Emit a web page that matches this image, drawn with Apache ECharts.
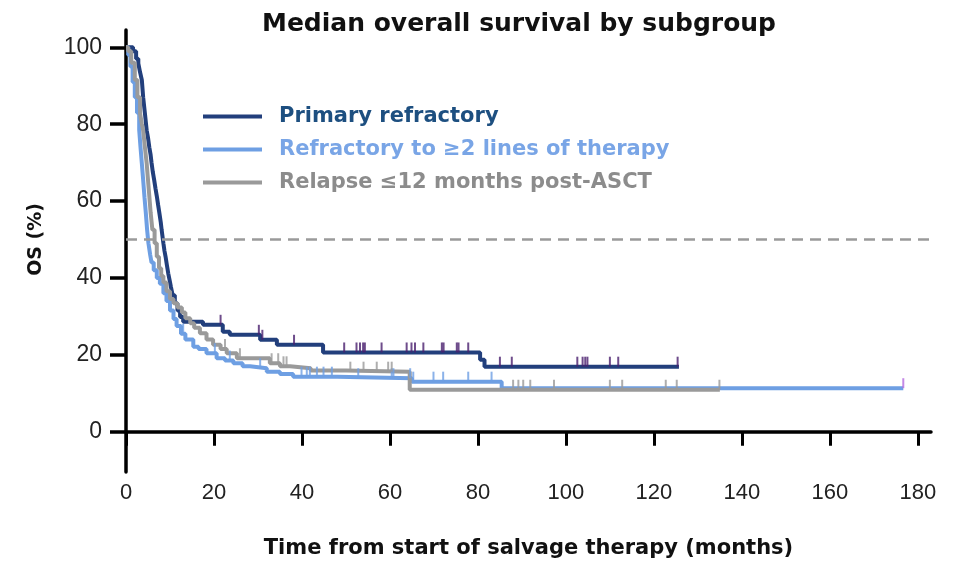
<!DOCTYPE html>
<html>
<head>
<meta charset="utf-8">
<script src="https://cdn.jsdelivr.net/npm/echarts@6/dist/echarts.min.js"></script>
<style>
  html, body { margin: 0; padding: 0; background: #fff; }
  #chart { width: 953px; height: 561px; }
</style>
</head>
<body>
<div id="chart"></div>
<script>
// Kaplan-Meier steps: time (months) and OS (%) from that time onward
const primaryT = [0, 1.6, 2.3, 2.8, 3.2, 3.6, 3.9, 4.3, 4.7, 5.0, 5.3, 5.6, 5.8, 6.1, 6.4, 6.7, 7.0, 7.3, 7.6, 7.9, 8.1, 8.5, 8.75, 9.0, 9.3, 9.6, 9.9, 10.2, 10.6, 11.1, 11.7, 12.3, 13, 17.5, 22, 23.6, 30.5, 34.3, 44.8, 80.5, 81.5, 125.7]
const primaryS = [100, 99, 97, 95.8, 93.5, 91.5, 87, 82.8, 78.4, 76.5, 74, 72, 70, 67.5, 65.5, 63.3, 61.3, 59, 56.8, 54.5, 52.5, 49, 47, 45.5, 43.3, 41.2, 39.5, 37.7, 35.5, 33.4, 31.5, 29.8, 28.6, 27.8, 26, 25.2, 23.9, 22.6, 20.6, 18.7, 16.9, 16.9]
const primaryCensor = [21.5, 30.2, 31, 38.2, 49.6, 52.4, 53.2, 53.9, 54.3, 58.1, 63.8, 64.9, 65.7, 67.6, 71.8, 72.2, 75.2, 75.6, 77.8, 85, 87.7, 102.6, 103.8, 104.4, 104.9, 110, 111.9, 125.4]

const refractoryT = [0, 0.5, 1.0, 1.5, 2.0, 2.5, 3.0, 3.3, 3.6, 3.9, 4.2, 4.5, 4.8, 5.1, 5.5, 5.8, 6.3, 7.0, 7.7, 8.5, 9.2, 10, 10.8, 11.5, 12.5, 13.5, 15.3, 16.5, 18.3, 20.6, 22.5, 24.4, 26.5, 28.2, 32, 35, 38, 48, 65, 85.4, 176.7]
const refractoryS = [100, 98, 95, 91, 87, 83, 78.5, 74, 69.8, 65.5, 61, 57, 52.5, 49, 46, 44, 42, 40, 38.5, 36, 34, 31.5, 29.3, 27.5, 25.5, 24, 22.1, 21.5, 20.4, 19.1, 18.5, 17.8, 17, 16.5, 15.6, 15, 14.3, 13.9, 13, 11.3, 11.3]
const refractoryCensor = [13, 20.2, 23.6, 30.5, 39.9, 41.1, 41.8, 43.4, 44.9, 46.8, 52.8, 60.4, 60.8, 64.6, 65.3, 69.9, 72.1, 77.8, 83.1]
const refractoryLast = [176.7]

const relapseT = [0, 0.5, 1.2, 2.0, 2.6, 3.2, 3.6, 3.9, 4.3, 4.7, 5.0, 5.3, 5.6, 6.0, 6.5, 7.0, 7.5, 8.0, 8.5, 9.2, 10, 10.8, 11.7, 12.7, 13.5, 14.6, 15.5, 16.8, 18.3, 19.8, 21.5, 22.9, 25.2, 32.7, 35, 37.3, 42, 50, 64.5, 135]
const relapseS = [100, 99, 96, 91.5, 87, 82.8, 80, 78.4, 74, 69.8, 65.5, 61.3, 57, 52.5, 49, 45.5, 42.5, 40.5, 38.8, 36.5, 34.5, 33.4, 32.3, 31, 29.5, 28.2, 27, 25.6, 24, 22.6, 21.5, 20.4, 19.1, 17.8, 17, 16.5, 15.9, 15.6, 10.9, 10.9]
const relapseCensor = [22.5, 25.9, 33.1, 34.6, 35.8, 36.5, 51, 54, 57, 59.6, 60.4, 88, 89.2, 90.3, 91.9, 97.3, 110, 112.8, 122.7, 125.2, 134.9]

const xTicks = [0, 20, 40, 60, 80, 100, 120, 140, 160, 180]
const yTicks = [0, 20, 40, 60, 80, 100]
const names = ['Primary refractory', 'Refractory to \u22652 lines of therapy', 'Relapse \u226412 months post-ASCT']

const lineColors = ['#223f7c', '#6e9fe3', '#9a9a9a']
const textColors = ['#1d4f80', '#79a5e6', '#8c8c8c']
const tickColors = ['#4a1f6e', '#6e9fe3', '#9a9a9a']
const FONT = '"Liberation Sans", Arial, sans-serif'
const BOLD = '"DejaVu Sans", "Liberation Sans", sans-serif'

function survAt(times, surv, t) {
  let v = surv[0]
  for (let i = 0; i < times.length; i++) {
    if (times[i] <= t) v = surv[i]
  }
  return v
}

function stepSeries(name, times, surv, color) {
  return {
    name: name,
    type: 'line',
    step: 'end',
    showSymbol: false,
    symbol: 'none',
    lineStyle: { color: color, width: 4 },
    itemStyle: { color: color },
    data: times.map((t, i) => [t, surv[i]]),
    z: 3
  }
}

function censorSeries(times, surv, pts, color) {
  return {
    type: 'scatter',
    symbol: 'rect',
    symbolSize: [2, 10],
    symbolOffset: [0, -5],
    itemStyle: { color: color },
    data: pts.map(t => [t, survAt(times, surv, t)]),
    z: 4
  }
}

const chart = echarts.init(document.getElementById('chart'))

const series = [
  stepSeries(names[0], primaryT, primaryS, lineColors[0]),
  stepSeries(names[1], refractoryT, refractoryS, lineColors[1]),
  stepSeries(names[2], relapseT, relapseS, lineColors[2]),
  censorSeries(primaryT, primaryS, primaryCensor, tickColors[0]),
  censorSeries(refractoryT, refractoryS, refractoryCensor, tickColors[1]),
  censorSeries(refractoryT, refractoryS, refractoryLast, '#b56be0'),
  censorSeries(relapseT, relapseS, relapseCensor, tickColors[2])
]
// median reference line
series[0].markLine = {
  silent: true,
  symbol: 'none',
  label: { show: false },
  lineStyle: { color: '#9a9a9a', width: 2.5, type: [11, 7] },
  data: [{ yAxis: 50 }]
}

const option = {
  animation: false,
  backgroundColor: '#fff',
  title: {
    text: 'Median overall survival by subgroup',
    left: 257,
    top: 7,
    textStyle: { fontFamily: BOLD, fontWeight: 'bold', fontSize: 25, color: '#111' }
  },
  legend: {
    orient: 'vertical',
    left: 198,
    top: 101,
    itemWidth: 59,
    itemHeight: 4,
    itemGap: 12,
    icon: 'rect',
    data: names.map((n, i) => ({
      name: n,
      textStyle: { color: textColors[i] }
    })),
    textStyle: { fontFamily: BOLD, fontWeight: 'bold', fontSize: 21, padding: [0, 0, 0, 12] }
  },
  grid: {
    left: 126,
    right: 22,
    top: 30,
    bottom: 89,
    outerBoundsMode: 'none'
  },
  xAxis: {
    type: 'value',
    min: 0,
    max: 183,
    offset: -14,
    name: 'Time from start of salvage therapy (months)',
    nameLocation: 'middle',
    nameGap: 80,
    nameTextStyle: { fontFamily: BOLD, fontWeight: 'bold', fontSize: 21, color: '#111' },
    axisLine: { lineStyle: { color: '#000', width: 3.5 } },
    axisTick: { customValues: xTicks, length: 14, lineStyle: { color: '#000', width: 3 } },
    axisLabel: { customValues: xTicks, margin: 24, fontFamily: FONT, fontSize: 22, color: '#222' },
    splitLine: { show: false }
  },
  yAxis: {
    type: 'value',
    min: -10.5,
    max: 104.5,
    axisLine: { show: true, lineStyle: { color: '#000', width: 3.5 } },
    axisTick: { show: true, customValues: yTicks, length: 16, lineStyle: { color: '#000', width: 3.5 } },
    axisLabel: { customValues: yTicks, margin: 24, fontFamily: FONT, fontSize: 23, color: '#222' },
    splitLine: { show: false }
  },
  graphic: [{
    type: 'text',
    left: 27,
    top: 203,
    rotation: Math.PI / 2,
    style: { text: 'OS (%)', fontFamily: BOLD, fontWeight: 'bold', fontSize: 19, fill: '#111' }
  }],
  series: series
}

chart.setOption(option)
</script>
</body>
</html>
